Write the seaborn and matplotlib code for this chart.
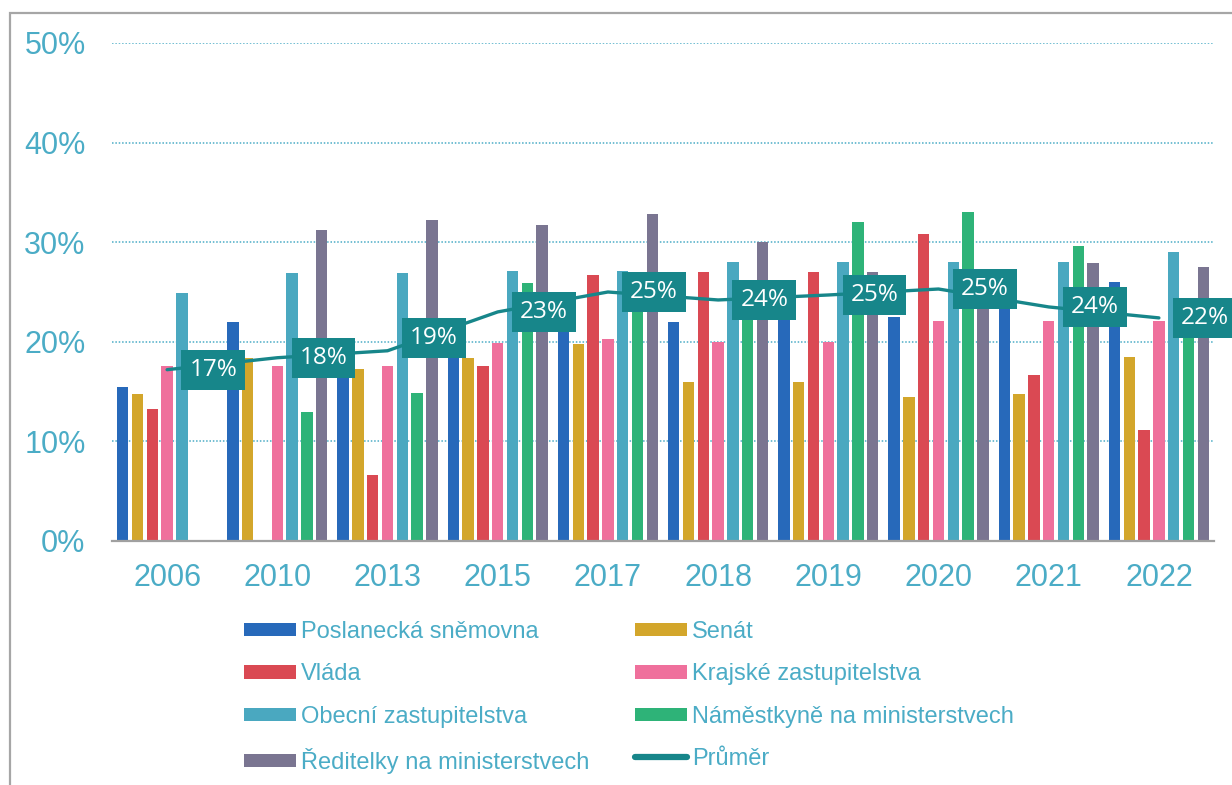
import numpy as np
import pandas as pd
import matplotlib
matplotlib.use("Agg")
import matplotlib.pyplot as plt
import seaborn as sns
from matplotlib.patches import Patch, Rectangle
from matplotlib.lines import Line2D

nan = np.nan

# ---------------- data ----------------
years = ["2006", "2010", "2013", "2015", "2017", "2018", "2019", "2020", "2021", "2022"]
series_names = [
    "Poslanecká sněmovna",
    "Senát",
    "Vláda",
    "Krajské zastupitelstva",
    "Obecní zastupitelstva",
    "Náměstkyně na ministerstvech",
    "Ředitelky na ministerstvech",
]
poslanecka = [15.5, 22.0, 19.0, 20.0, 22.0, 22.0, 22.5, 22.5, 25.0, 26.0]
senat = [14.8, 18.4, 17.3, 18.4, 19.8, 16.0, 16.0, 14.5, 14.8, 18.5]
vlada = [13.3, nan, 6.6, 17.6, 26.7, 27.0, 27.0, 30.8, 16.7, 11.1]
krajske = [17.6, 17.6, 17.6, 19.9, 20.3, 20.0, 20.0, 22.1, 22.1, 22.1]
obecni = [24.9, 26.9, 26.9, 27.1, 27.1, 28.0, 28.0, 28.0, 28.0, 29.0]
namestkyne = [nan, 13.0, 14.9, 25.9, 25.0, 24.0, 32.0, 33.0, 29.6, 22.0]
reditelky = [nan, 31.2, 32.2, 31.7, 32.8, 30.0, 27.0, 26.0, 27.9, 27.5]
prumer = [17.2, 18.4, 19.1, 23.0, 25.0, 24.2, 24.7, 25.3, 23.5, 22.4]
avg_name = "Průměr"

colors = ["#2769BA", "#D3A62B", "#DA4953", "#EF709C", "#4AA8C0", "#2EB378", "#7A7591"]
avg_color = "#17868A"
text_color = "#4BACC6"

# ---------------- build table ----------------
wide = pd.DataFrame(
    dict(zip(series_names, [poslanecka, senat, vlada, krajske, obecni, namestkyne, reditelky])),
    index=years,
)
wide.index.name = "Rok"
long = wide.reset_index().melt(id_vars="Rok", var_name="Instituce", value_name="Podíl").dropna()
avg_df = pd.DataFrame({"Rok": years, "Podíl": prumer})

# ---------------- style ----------------
sns.set_theme(style="white")
plt.rcParams["font.family"] = ["Liberation Sans", "DejaVu Sans"]

W, H = 1232, 785
fig = plt.figure(figsize=(W / 100, H / 100), dpi=100)
ax = fig.add_axes([112 / W, 1 - 541 / H, (1214 - 112) / W, (541 - 43) / H])

sns.barplot(
    data=long, x="Rok", y="Podíl", hue="Instituce",
    order=years, hue_order=series_names, palette=colors, saturation=1,
    width=0.94, gap=0.22, errorbar=None, linewidth=0,
    legend=False, ax=ax, zorder=2,
)

sns.pointplot(
    data=avg_df, x="Rok", y="Podíl", order=years, color=avg_color,
    markers="", linestyles="-", errorbar=None, ax=ax,
    linewidth=2.4, zorder=3,
)

label_dy = [0, 0, 9, 0, 0, 0, 0, 0, 0, 0]
for i, v in enumerate(prumer):
    ax.annotate(
        f"{v:.0f}%", xy=(i, v), xytext=(16, label_dy[i]), textcoords="offset points",
        ha="left", va="center", color="white", fontsize=17.5, family=["Open Sans", "DejaVu Sans"],
        bbox=dict(boxstyle="square,pad=0.33", fc=avg_color, ec="none"), zorder=5,
    )

ax.set_ylim(0, 50)
ax.set_xlim(-0.5, len(years) - 0.5)
ax.set_yticks(range(0, 51, 10))
ax.set_yticklabels([f"{t}%" for t in range(0, 51, 10)])
ax.set_xlabel("")
ax.set_ylabel("")
ax.tick_params(axis="y", length=0, pad=19, labelsize=22, labelcolor=text_color)
ax.tick_params(axis="x", length=0, pad=16, labelsize=22, labelcolor=text_color)

ax.set_axisbelow(True)
ax.yaxis.grid(True, color=text_color, linestyle=(0, (1, 1.2)), linewidth=1.1)
ax.xaxis.grid(False)
for s in ["left", "right", "top"]:
    ax.spines[s].set_visible(False)
ax.spines["bottom"].set_color("#A0A0A0")
ax.spines["bottom"].set_linewidth(1.6)
ax.spines["bottom"].set_zorder(4)

# ---------------- legends ----------------
handles = [Patch(facecolor=c, edgecolor="none", label=n) for c, n in zip(colors, series_names)]
handles.append(Line2D([0], [0], color=avg_color, lw=4.5, label=avg_name))
col1 = [handles[0], handles[2], handles[4], handles[6]]
col2 = [handles[1], handles[3], handles[5], handles[7]]
fs = 17
leg_kw = dict(
    loc="upper left", frameon=False, fontsize=fs, labelcolor=text_color,
    handlelength=52 / (fs * 100 / 72), handleheight=0.5, handletextpad=0.2, labelspacing=0.86,
    borderpad=0, borderaxespad=0,
)
fig.legend(handles=col1, bbox_to_anchor=(244 / W, 1 - 621 / H), **leg_kw)
fig.legend(handles=col2, bbox_to_anchor=(635 / W, 1 - 621 / H), **leg_kw)

# outer frame (left and top edges visible)
fig.add_artist(Rectangle((10 / W, -0.5), 2.0, (1 - 13 / H) + 0.5, transform=fig.transFigure,
                         fill=False, ec="#A6A6A6", lw=1.6, clip_on=False))

fig.savefig("out.png", dpi=100)
